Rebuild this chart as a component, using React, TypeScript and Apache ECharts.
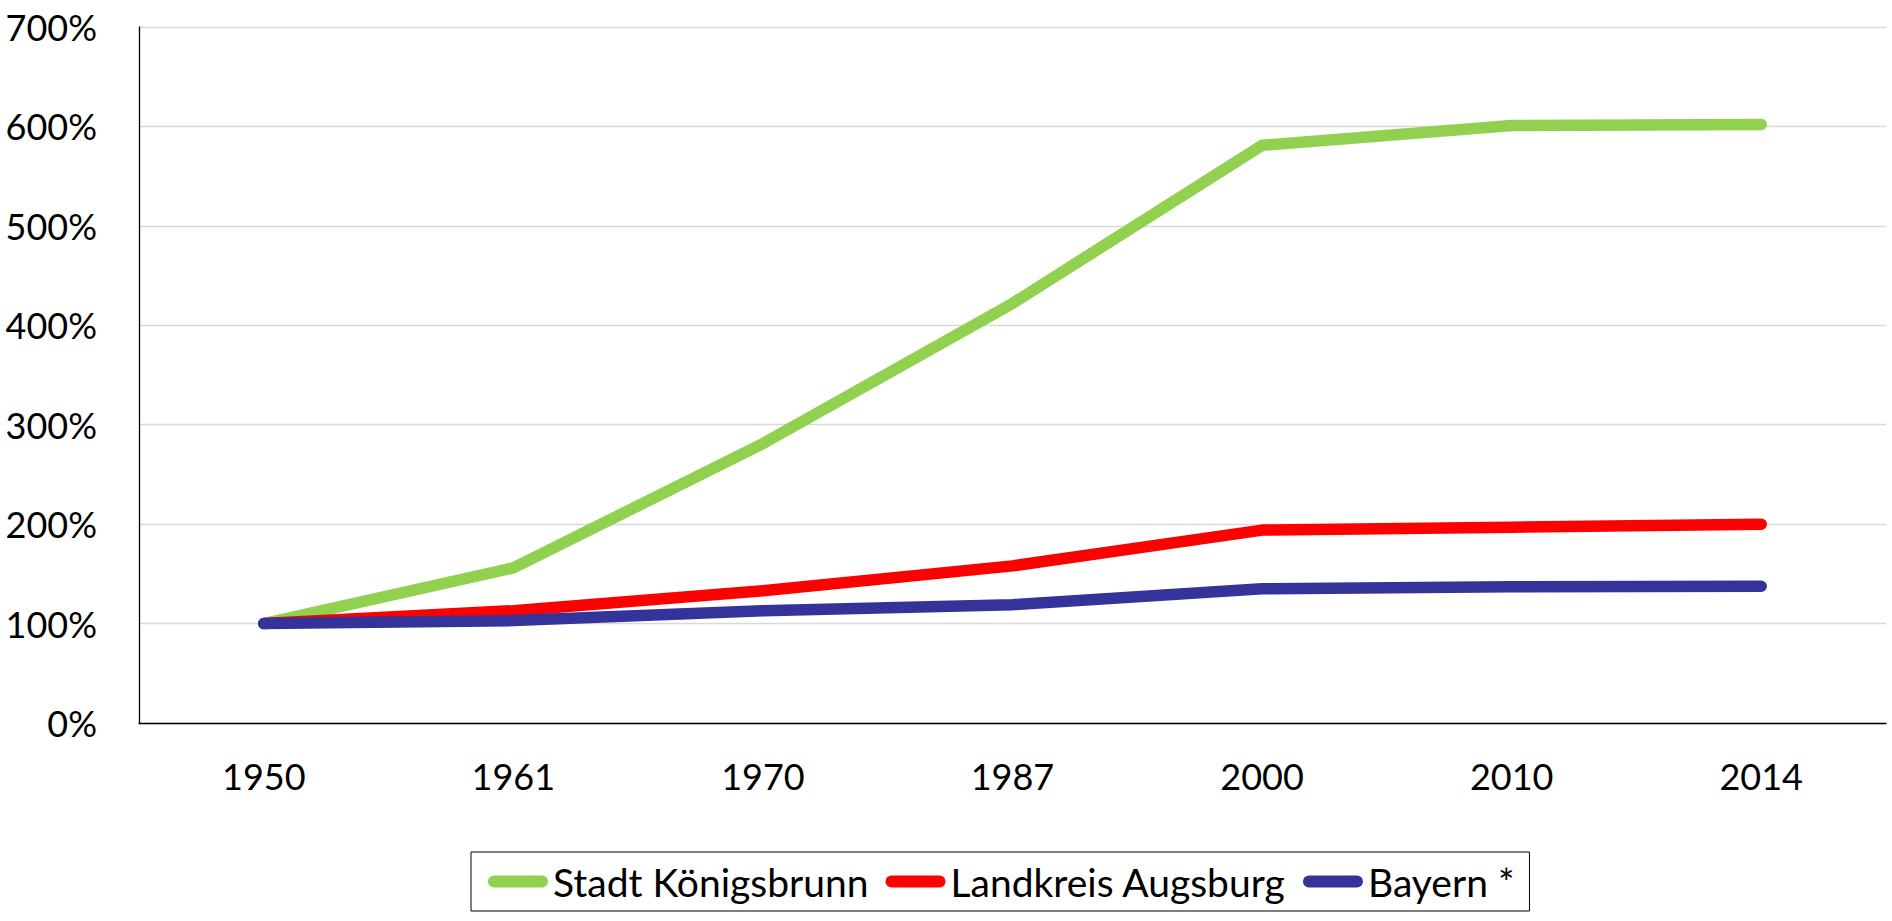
import React, { useEffect, useRef } from "react";
import * as echarts from "echarts";

const years = ["1950", "1961", "1970", "1987", "2000", "2010", "2014"];
const stadtKoenigsbrunn = [100, 156, 281, 422, 581, 601, 602];
const landkreisAugsburg = [100, 113, 133, 158, 194, 197, 200];
const bayern = [100, 103, 113, 119, 135, 137, 137.5];
const seriesNames = ["Stadt Königsbrunn", "Landkreis Augsburg", "Bayern *"];
const seriesColors = ["#92D050", "#FF0000", "#333399"];

const FONT = "Lato";
const capsule = "path://M6,0 H54 A6,6 0 0 1 54,12 H6 A6,6 0 0 1 6,0 Z";

export default function App() {
  const ref = useRef<HTMLDivElement>(null);
  useEffect(() => {
    if (!ref.current) return;
    const chart = echarts.init(ref.current, null, { renderer: "svg" });
    const data = [stadtKoenigsbrunn, landkreisAugsburg, bayern];
    chart.setOption({
      animation: false,
      backgroundColor: "#ffffff",
      grid: { left: 139, right: 6, top: 27, bottom: 198, containLabel: false },
      legend: {
        left: 471,
        top: 852,
        width: 1100,
        padding: [10, 15, 10, 17],
        borderColor: "#000000",
        borderWidth: 1,
        itemGap: 17,
        itemWidth: 60,
        itemHeight: 12,
        icon: capsule,
        textStyle: { fontFamily: FONT, fontSize: 39, color: "#000000" },
        data: seriesNames,
      },
      xAxis: {
        type: "category",
        data: years,
        boundaryGap: true,
        axisLine: { lineStyle: { color: "#000000", width: 1.3 } },
        axisTick: { show: false },
        axisLabel: { fontFamily: FONT, fontSize: 36, color: "#000000", margin: 35 },
      },
      yAxis: {
        type: "value",
        min: 0,
        max: 700,
        interval: 100,
        axisLine: { show: true, lineStyle: { color: "#000000", width: 1.3 } },
        axisTick: { show: false },
        splitLine: { lineStyle: { color: "#D9D9D9", width: 1.3 } },
        axisLabel: {
          fontFamily: FONT,
          fontSize: 36,
          color: "#000000",
          margin: 42,
          formatter: (v: number) => `${v}%`,
        },
      },
      series: seriesNames.map((name, i) => ({
        name,
        type: "line",
        data: data[i],
        symbol: "none",
        color: seriesColors[i],
        lineStyle: { color: seriesColors[i], width: 11.5, cap: "round", join: "round" },
      })),
    });
    return () => chart.dispose();
  }, []);
  return (
    <div
      ref={ref}
      style={{ position: "fixed", left: 0, top: 0, width: 1892, height: 921, background: "#fff" }}
    />
  );
}
